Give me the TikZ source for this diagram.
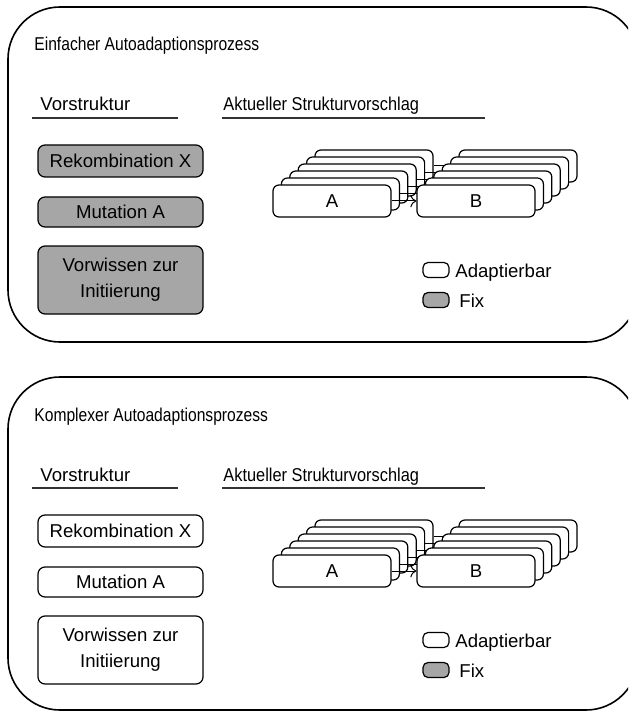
\documentclass[tikz,border=0pt]{standalone}
\usepackage{fontspec}
\setmainfont{Liberation Sans}
\newfontfamily\titlefont[FakeStretch=0.84]{Liberation Sans}
\newfontfamily\headfont[FakeStretch=0.88]{Liberation Sans}
\usetikzlibrary{arrows.meta}

\begin{document}
\begin{tikzpicture}[x=0.5pt,y=-0.5pt,
  every node/.style={font=\fontsize{9.3}{13}\selectfont},
  panel/.style={draw,line width=0.8pt,rounded corners=26pt},
  headline/.style={anchor=base west,inner sep=0pt},
  rule/.style={draw=black!80,line width=1pt},
  prebox/.style={draw,line width=0.6pt,rounded corners=3.5pt,minimum width=82.5pt,inner sep=0pt,align=center},
  stackbox/.style={draw,fill=white,line width=0.6pt,rounded corners=3pt,minimum width=59pt,minimum height=16pt,inner sep=0pt},
  keybox/.style={draw,line width=0.6pt,rounded corners=2.5pt,minimum width=13pt,minimum height=7.5pt,inner sep=0pt},
  link/.style={-{To[length=3pt]},line width=0.5pt}]
  \useasboundingbox (0,0) rectangle (628,711);
  \clip (0,0) rectangle (628,711);

  % the two process panels
  \draw[panel] (8,7) rectangle (638,342);
  \draw[panel] (8,377) rectangle (638,710);

  \foreach \p/\dy/\ttl/\fc in {t/0/Einfacher/gray!70, b/370/Komplexer/white} {
    \begin{scope}[shift={(0,\dy)}]
      \node[headline,font=\titlefont\fontsize{9.3}{13}\selectfont] (\p title) at (34,51) {\ttl\ Autoadaptionsprozess};
      \node[headline] (\p pre) at (40,111) {Vorstruktur};
      \node[headline,font=\headfont\fontsize{9.3}{13}\selectfont] (\p cur) at (223,111) {Aktueller Strukturvorschlag};
      \draw[rule] (32,118) -- (178,118);
      \draw[rule] (222,118) -- (485,118);

      % Vorstruktur
      \node[prebox,fill=\fc,minimum height=16pt] (\p rek) at (120.5,161) {Rekombination X};
      \node[prebox,fill=\fc,minimum height=15pt] (\p mut) at (120.5,212) {Mutation A};
      \node[prebox,fill=\fc,minimum height=34pt] (\p vor) at (120.5,280) {Vorwissen zur\\Initiierung};

      % stacked proposals, back to front
      \foreach \i in {5,4,...,0} {
        \node[stackbox] (\p a\i) at (332+8.4*\i,201-7*\i) {\ifnum\i=0 A\fi};
        \node[stackbox] (\p b\i) at (476+8.4*\i,201-7*\i) {\ifnum\i=0 B\fi};
        \draw[link] (\p a\i) -- (\p b\i);
      }

      % legend
      \node[keybox,fill=white] (\p adap) at (436,270) {};
      \node[headline] (\p adaptxt) at (455,277) {Adaptierbar};
      \node[keybox,fill=gray!70] (\p fix) at (436,300) {};
      \node[headline] (\p fixtxt) at (459,307) {Fix};
    \end{scope}
  }
\end{tikzpicture}
\end{document}
